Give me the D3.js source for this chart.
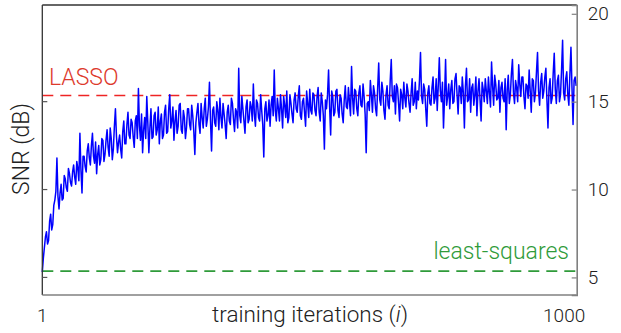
<!DOCTYPE html>
<html>
<head>
<meta charset="utf-8">
<script src="https://cdn.jsdelivr.net/npm/d3@7"></script>
<style>
  body { margin: 0; background: #fff; }
  svg text { font-family: Roboto, "Liberation Sans", sans-serif; font-weight: 300; }
</style>
</head>
<body>
<div id="chart"></div>
<script>
// SNR per training iteration, sampled every 2 iterations starting at 1
const iterStep = 2;
const snr = [
  5.3, 6.1, 6.7, 7.3, 7.6, 6.9, 7.1, 8.2, 8.6, 7.7, 8.0, 9.1, 9.4, 9.9, 11.8, 9.6, 8.9, 9.8, 10.3, 9.4,
  9.5, 10.8, 10.6, 10.1, 9.9, 11.2, 10.9, 10.4, 10.2, 11.0, 11.4, 10.7, 10.3, 11.6, 11.2, 10.5, 13.2, 11.1, 9.8, 11.9,
  11.9, 11.3, 11.0, 12.2, 12.6, 11.8, 11.4, 12.5, 13.2, 11.9, 11.5, 12.7, 10.9, 12.0, 12.5, 11.4, 11.7, 12.9, 12.8, 11.6,
  12.0, 12.8, 13.4, 12.4, 11.9, 13.5, 12.9, 11.7, 12.3, 13.6, 14.6, 13.0, 12.1, 12.7, 13.1, 12.3, 11.8, 13.3, 13.9, 12.6,
  12.6, 13.7, 14.4, 13.1, 12.9, 14.0, 13.8, 13.0, 12.4, 13.9, 14.2, 12.9, 15.75, 13.6, 12.8, 14.3, 12.1, 13.4, 14.1, 12.9,
  15.3, 13.8, 12.1, 13.5, 14.6, 12.9, 13.0, 14.2, 14.4, 13.1, 13.4, 14.7, 12.6, 13.9, 14.3, 12.9, 13.1, 14.4, 14.8, 13.2,
  13.3, 14.6, 15.4, 13.5, 13.9, 14.7, 12.8, 13.9, 14.5, 13.2, 13.6, 14.8, 14.9, 13.4, 13.2, 14.5, 14.1, 12.9, 13.5, 14.6,
  14.6, 13.7, 13.4, 14.8, 14.2, 13.3, 12.0, 13.8, 14.4, 14.9, 13.7, 13.2, 14.9, 14.1, 13.5, 14.6, 15.2, 13.6, 14.0, 14.7,
  16.1, 13.9, 12.2, 14.5, 14.7, 13.8, 13.6, 15.0, 14.5, 13.4, 15.2, 14.1, 13.5, 14.9, 14.3, 13.7, 12.9, 14.4, 14.8, 13.9,
  13.7, 15.2, 14.9, 14.0, 13.3, 14.6, 14.4, 13.5, 16.9, 14.2, 13.8, 15.3, 14.6, 13.9, 13.2, 14.7, 15.1, 13.8, 14.0, 15.0,
  14.7, 13.9, 16.0, 14.3, 13.6, 15.1, 14.9, 14.1, 13.9, 15.4, 14.5, 13.7, 11.85, 14.6, 15.0, 13.9, 14.2, 15.1, 13.6, 14.8,
  15.3, 14.2, 16.8, 14.5, 13.9, 15.2, 14.6, 13.9, 15.4, 14.6, 13.5, 15.3, 14.8, 14.1, 15.6, 13.8, 14.1, 15.4, 14.9, 14.3,
  13.8, 15.1, 15.5, 14.6, 14.4, 15.3, 15.9, 14.2, 14.0, 15.0, 15.2, 14.4, 13.6, 15.6, 14.9, 14.1, 15.7, 14.5, 14.3, 15.5,
  15.4, 14.5, 14.2, 15.3, 15.8, 14.4, 13.9, 15.5, 15.0, 14.2, 12.3, 15.1, 14.6, 15.4, 16.8, 14.7, 13.1, 15.6, 15.3, 14.2,
  14.4, 15.6, 15.7, 14.5, 14.1, 15.4, 15.2, 14.3, 13.8, 15.1, 15.9, 14.7, 14.6, 15.8, 15.0, 14.2, 17.0, 15.2, 14.3, 15.7,
  15.6, 14.6, 14.2, 15.5, 15.9, 14.8, 14.7, 16.0, 15.3, 14.3, 12.1, 14.9, 15.0, 14.5, 16.2, 15.4, 14.4, 15.9, 15.5, 14.6,
  14.2, 15.8, 17.2, 15.1, 14.8, 16.1, 15.6, 14.5, 14.0, 15.4, 15.9, 14.8, 14.6, 16.2, 17.4, 15.3, 15.0, 15.9, 14.3, 16.0,
  15.8, 14.9, 13.9, 15.7, 15.4, 14.6, 16.1, 15.2, 14.7, 16.0, 15.6, 14.9, 14.4, 15.5, 16.3, 14.8, 15.0, 16.1, 14.6, 15.6,
  15.1, 16.2, 17.8, 15.3, 14.9, 16.0, 15.7, 14.6, 13.6, 15.5, 15.9, 14.9, 14.8, 15.8, 16.4, 14.9, 15.2, 16.3, 14.5, 15.9,
  17.5, 15.6, 15.0, 16.1, 13.5, 15.2, 17.4, 14.8, 15.3, 16.0, 14.6, 15.7, 16.2, 14.9, 15.0, 16.3, 16.6, 15.4, 14.3, 15.9,
  15.8, 14.9, 16.4, 15.5, 13.5, 15.9, 16.9, 15.0, 15.1, 16.3, 14.4, 15.8, 16.0, 14.8, 15.4, 16.4, 14.2, 15.6, 16.3, 15.1,
  13.9, 16.1, 15.7, 15.0, 16.3, 15.6, 14.9, 16.4, 15.5, 14.7, 17.25, 15.9, 14.8, 16.5, 16.0, 15.1, 15.2, 16.2, 14.4, 15.8,
  16.1, 15.2, 15.0, 16.3, 13.4, 15.7, 16.5, 14.9, 15.4, 16.6, 17.4, 15.5, 14.9, 16.2, 15.8, 15.0, 17.1, 16.0, 15.3, 16.4,
  16.4, 15.3, 14.6, 16.0, 15.9, 15.2, 16.8, 15.6, 14.4, 16.3, 16.2, 15.0, 15.5, 16.7, 17.8, 15.6, 14.8, 16.1, 16.6, 15.2,
  15.6, 16.4, 16.9, 15.1, 13.5, 15.8, 16.3, 14.9, 15.2, 16.6, 17.75, 15.7, 14.9, 16.2, 16.5, 15.0, 15.4, 16.8, 18.5, 15.5,
  15.1, 16.3, 16.7, 15.4, 14.8, 16.6, 18.1, 15.8, 13.7, 16.2, 16.4, 15.9
];
const lassoLevel = 15.35;
const lsLevel = 5.36;
const yTicks = [5, 10, 15, 20];
const xTickLabels = [1, 1000];

const width = 621, height = 333;
const margin = { top: 5, right: 44.3, bottom: 38, left: 42.3 };

const svg = d3.select('#chart')
  .append('svg')
  .attr('width', width)
  .attr('height', height);

const x = d3.scaleLinear()
  .domain([1, 1024])
  .range([margin.left, width - margin.right]);

const y = d3.scaleLinear()
  .domain([4, 20.5])
  .range([height - margin.bottom, margin.top]);

const x0 = x.range()[0], x1 = x.range()[1];
const yTop = y.range()[1], yBot = y.range()[0];

// reference lines
svg.append('line')
  .attr('x1', x0).attr('x2', x1)
  .attr('y1', y(lassoLevel)).attr('y2', y(lassoLevel))
  .attr('stroke', '#ee2424').attr('stroke-width', 1.6)
  .attr('stroke-dasharray', '11,7');

svg.append('line')
  .attr('x1', x0).attr('x2', x1)
  .attr('y1', y(lsLevel)).attr('y2', y(lsLevel))
  .attr('stroke', '#2f9b3a').attr('stroke-width', 1.6)
  .attr('stroke-dasharray', '11,7');

// SNR curve
const line = d3.line()
  .x((d, i) => x(1 + i * iterStep))
  .y(d => y(d));

svg.append('path')
  .datum(snr)
  .attr('d', line)
  .attr('fill', 'none')
  .attr('stroke', '#0000ff')
  .attr('stroke-width', 1.5)
  .attr('stroke-linejoin', 'round');

// frame
svg.append('line').attr('x1', x0).attr('x2', x1).attr('y1', yTop).attr('y2', yTop)
  .attr('stroke', '#333').attr('stroke-width', 1.3);
svg.append('line').attr('x1', x0).attr('x2', x0).attr('y1', yTop).attr('y2', yBot)
  .attr('stroke', '#333').attr('stroke-width', 1.3);

// right axis with inward ticks
const rightAxis = svg.append('g')
  .attr('transform', `translate(${x1},0)`)
  .call(d3.axisRight(y).tickValues(yTicks).tickSize(-5).tickPadding(11));
rightAxis.select('.domain').attr('stroke', '#808080').attr('stroke-width', 1.6);
rightAxis.selectAll('.tick line').attr('stroke', '#808080').attr('stroke-width', 1.2);
rightAxis.selectAll('.tick text')
  .attr('fill', '#222').attr('font-size', 19);

// left ticks (no labels)
svg.append('g')
  .selectAll('line')
  .data(yTicks.filter(v => v < 20))
  .join('line')
  .attr('x1', x0).attr('x2', x0 + 5)
  .attr('y1', d => y(d)).attr('y2', d => y(d))
  .attr('stroke', '#555').attr('stroke-width', 1.2);

// bottom axis
svg.append('line').attr('x1', x0).attr('x2', x1).attr('y1', yBot).attr('y2', yBot)
  .attr('stroke', '#808080').attr('stroke-width', 1.6);

svg.append('g')
  .selectAll('text')
  .data(xTickLabels)
  .join('text')
  .attr('x', d => x(d))
  .attr('y', 322)
  .attr('text-anchor', 'middle')
  .attr('font-size', 19)
  .attr('fill', '#222')
  .text(d => d);

const xTitle = svg.append('text')
  .attr('x', 310).attr('y', 322)
  .attr('text-anchor', 'middle')
  .attr('font-size', 22.5)
  .attr('fill', '#222');
xTitle.append('tspan').text('training iterations (');
xTitle.append('tspan').attr('font-style', 'italic').text('i');
xTitle.append('tspan').text(')');

svg.append('text')
  .attr('transform', 'translate(29,149) rotate(-90)')
  .attr('text-anchor', 'middle')
  .attr('font-size', 23)
  .attr('fill', '#222')
  .text('SNR (dB)');

// annotations
svg.append('text')
  .attr('x', 49).attr('y', 85)
  .attr('font-size', 23)
  .attr('fill', '#dd3a2c')
  .text('LASSO');

svg.append('text')
  .attr('x', 569).attr('y', 259)
  .attr('text-anchor', 'end')
  .attr('font-size', 23)
  .attr('fill', '#2f9b3a')
  .text('least-squares');
</script>
</body>
</html>
